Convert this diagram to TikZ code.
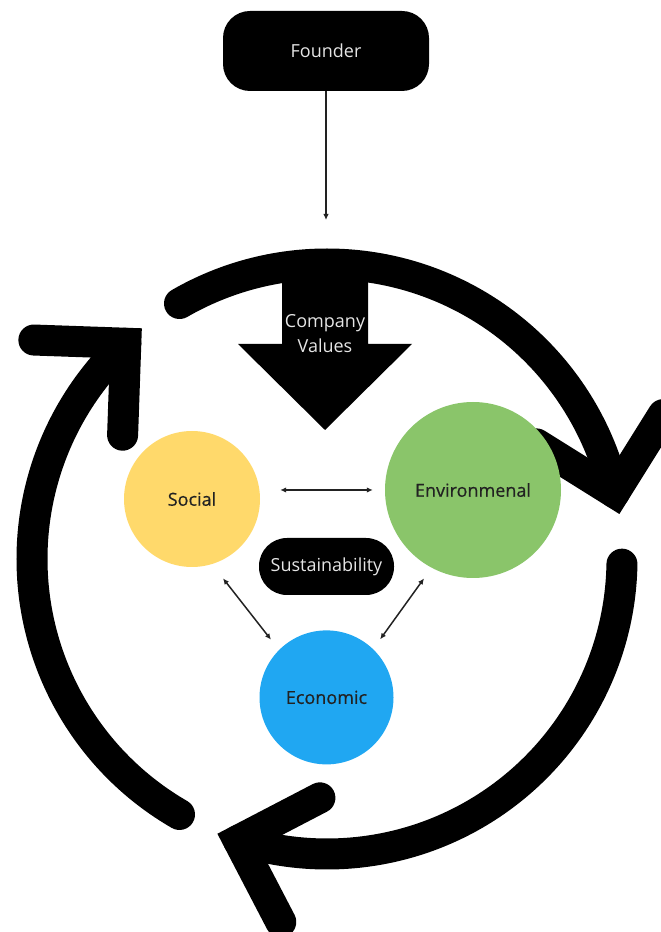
\documentclass[tikz,border=0pt]{standalone}
\usepackage{fontspec}
\setmainfont{Open Sans}
\newfontfamily\pillarfont{Open Sans}[FakeBold=0.5]
\usetikzlibrary{positioning}
\usetikzlibrary{arrows.meta}

\definecolor{socialyellow}{HTML}{FFD96B}
\definecolor{envgreen}{HTML}{8AC56A}
\definecolor{econblue}{HTML}{20A7F2}
\definecolor{labelgrey}{HTML}{222222}

\tikzset{
  blackbox/.style={fill=black, text=white!90!black, rounded corners=27pt,
    font=\fontsize{18}{22}\selectfont},
  pillar/.style={circle, inner sep=0pt, text=labelgrey,
    font=\pillarfont\fontsize{18}{22}\selectfont},
  link/.style={line width=1.5pt, draw=labelgrey, <->},
  loopband/.style={line width=31pt, line cap=round},
  >={Latex[length=6pt,width=5.5pt]}
}

\begin{document}
\begin{tikzpicture}[x=1pt, y=1pt]
    \clip (0,0) rectangle (661,932);
    \coordinate (hub) at (327,373);

    % the three turning arrows round the middle
    \foreach \from/\to in {120/13, -1/-107.5, 240/133} {
        \draw[loopband] ([shift={(\from:295pt)}]hub) arc[start angle=\from, end angle=\to, radius=295pt];
        \draw[loopband, line join=miter] ([shift={(\to:295pt)}]hub) ++(\to+45:92pt)
            -- ++(\to+225:92pt) -- ++(\to+135:92pt);
    }

    % big down arrow
    \fill (282,667) -- (368,667) -- (368,588) -- (412,588) -- (325,502)
        -- (238,588) -- (282,588) -- cycle;
    \node[align=center, text=white!90!black, font=\fontsize{18}{25}\selectfont] (values) at (325,598) {Company\\Values};

    \node[blackbox, minimum width=206pt, minimum height=80pt] (founder) at (326,881) {Founder};
    \coordinate (drop) at (326,712);
    \draw[line width=1.5pt, draw=labelgrey, ->] (founder) -- (drop);

    % pillars
    \node[blackbox, minimum width=135pt, minimum height=57pt, rounded corners=28pt] (sustain) at (326.5,365.5) {Sustainability};
    \node[pillar, fill=socialyellow, minimum size=136pt] (social) at (192,433) {Social};
    \node[pillar, fill=envgreen, minimum size=176pt] (environ) at (473,442) {Environmenal};
    \node[pillar, fill=econblue, minimum size=134pt, below=35pt of sustain] (econ) {Economic};

    \draw[link, shorten <=20pt, shorten >=12pt] (environ.west -| social.east) -- (environ.west);
    \draw[link, shorten <=18pt, shorten >=13pt] (social.-73) -- (econ.135);
    \draw[link, shorten <=13pt, shorten >=12pt] (environ.242) -- (econ.46);
\end{tikzpicture}
\end{document}
